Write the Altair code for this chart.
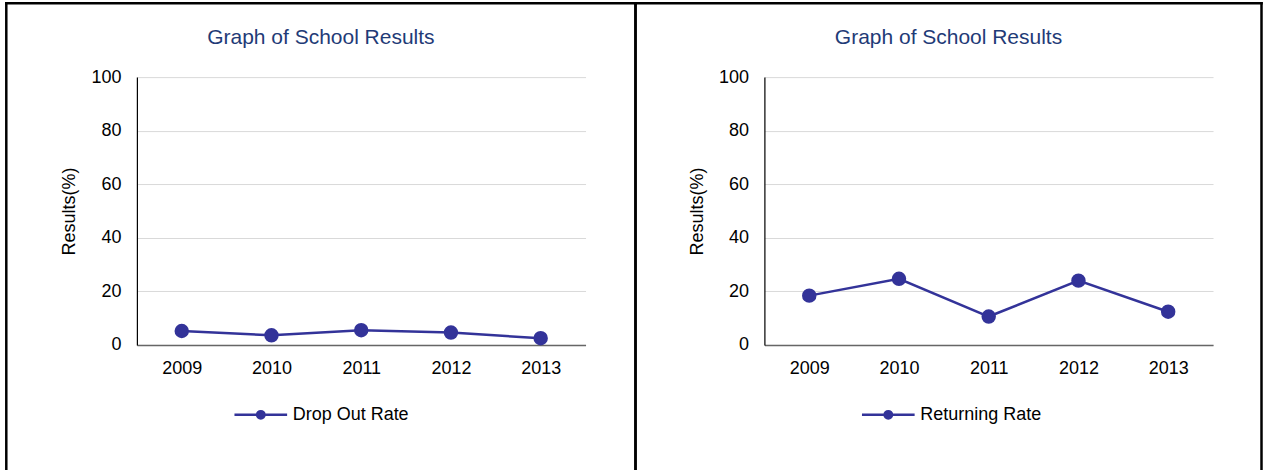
import altair as alt
import pandas as pd

# School results per year (percent)
years = ["2009", "2010", "2011", "2012", "2013"]
drop_out_rate = [5.2, 3.6, 5.5, 4.6, 2.5]
returning_rate = [18.4, 24.7, 10.6, 24.0, 12.4]
y_ticks = [0, 20, 40, 60, 80, 100]
series_names = ["Drop Out Rate", "Returning Rate"]
chart_title = "Graph of School Results"
y_title = "Results(%)"

LINE = "#333399"
TITLE_COLOR = "#1f3b77"
FONT = "Liberation Sans"
PLOT_W, PLOT_H = 449, 268
GAP = 179
FRAME_TOP, FRAME_BOTTOM = -74, 392

# legend marker: a short line with a dot in its middle, in the unit square
LEGEND_SYMBOL = "M-1,0L1,0M-0.14,0A0.14,0.14,0,1,1,0.14,0A0.14,0.14,0,1,1,-0.14,0Z"


def panel(name, values, frame_left, frame_right):
    df = pd.DataFrame({"year": years, "value": values, "series": name})
    base = alt.Chart(df)
    x = alt.X(
        "year:O",
        sort=years,
        scale=alt.Scale(type="point", padding=0.5),
        axis=alt.Axis(
            title=None, labelAngle=0, labelPadding=15, ticks=False,
            domainColor="#666666", domainWidth=1.5, grid=False,
        ),
    )
    y = alt.Y(
        "value:Q",
        scale=alt.Scale(domain=[0, 100]),
        axis=alt.Axis(
            values=y_ticks, title=y_title, titleX=-67, titleY=PLOT_H / 2,
            titleAngle=270, titleAlign="center", titleBaseline="middle",
            labelPadding=16, ticks=False, grid=True, gridColor="#d9d9d9",
            domainColor="#000000", domainWidth=1.2,
        ),
    )
    line = base.mark_line(color=LINE, strokeWidth=2.5).encode(x=x, y=y)
    dots = base.mark_point(
        filled=True, size=143, stroke=LINE, strokeWidth=2.5, opacity=1
    ).encode(
        x=x,
        y=y,
        color=alt.Color(
            "series:N",
            scale=alt.Scale(domain=[name], range=[LINE]),
            legend=alt.Legend(
                title=None, orient="none", legendX=96, legendY=310, padding=0,
                symbolType=LEGEND_SYMBOL, symbolSize=2777,
                symbolStrokeWidth=2.5, symbolStrokeColor=LINE,
                symbolFillColor=LINE, labelOffset=4, labelFontSize=18,
                labelFont=FONT, labelColor="#000000", labelLimit=400,
            ),
        ),
    )
    one = alt.Chart(pd.DataFrame({"k": [0]}))
    edge = dict(color="black", strokeWidth=2.5, strokeCap="square")
    left = one.mark_rule(**edge).encode(
        x=alt.value(frame_left), y=alt.value(FRAME_TOP), y2=alt.value(FRAME_BOTTOM)
    )
    right = one.mark_rule(**edge).encode(
        x=alt.value(frame_right), y=alt.value(FRAME_TOP), y2=alt.value(FRAME_BOTTOM)
    )
    top = one.mark_rule(**edge).encode(
        x=alt.value(frame_left), x2=alt.value(frame_right), y=alt.value(FRAME_TOP)
    )
    return alt.layer(left, right, top, line, dots).properties(
        width=PLOT_W,
        height=PLOT_H,
        title=alt.TitleParams(
            text=chart_title, fontSize=21, font=FONT, fontWeight="normal",
            color=TITLE_COLOR, anchor="middle", frame="bounds", offset=-64,
            baseline="alphabetic",
        ),
    )


left_panel = panel(series_names[0], drop_out_rate, -130.7, 499)
right_panel = panel(series_names[1], returning_rate, -129, 497.5)

chart = (
    alt.hconcat(left_panel, right_panel, spacing=GAP, bounds="flush")
    .resolve_scale(color="independent")
    .resolve_legend(color="independent")
    .properties(padding={"left": 4, "top": 1, "right": 0, "bottom": 0})
    .configure(font=FONT, background="white")
    .configure_view(strokeWidth=0)
    .configure_axis(
        labelFont=FONT, labelFontSize=18, labelColor="#000000",
        titleFont=FONT, titleFontSize=18, titleFontWeight="normal",
        titleColor="#000000",
    )
)

chart.save("out.html", embed_options={"renderer": "svg", "actions": False})
